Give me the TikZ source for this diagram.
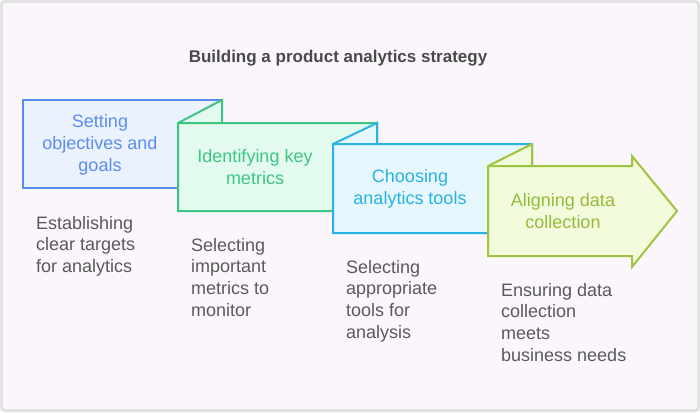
\documentclass[tikz,border=0pt]{standalone}
\usepackage{fontspec}
\setmainfont{Liberation Sans}
\definecolor{bgc}{HTML}{FBF6FC}
\definecolor{framec}{HTML}{E2E2E2}
\definecolor{titlec}{HTML}{4A4A4A}
\definecolor{descc}{HTML}{5A5A5A}
\definecolor{blueS}{HTML}{5B8DEF}
\definecolor{blueF}{HTML}{EBF2FE}
\definecolor{greenS}{HTML}{3DC683}
\definecolor{greenF}{HTML}{E3FBEF}
\definecolor{cyanS}{HTML}{29B3E3}
\definecolor{cyanF}{HTML}{E6F7FD}
\definecolor{limeS}{HTML}{9DC53F}
\definecolor{limeF}{HTML}{F2FBDC}
\begin{document}
\begin{tikzpicture}[x=1pt,y=-1pt,
  shapebox/.style={line width=2pt, line join=miter},
  lbl/.style={inner sep=0pt, align=center, font=\fontsize{18}{22}\selectfont},
  desc/.style={inner sep=0pt, align=left, anchor=north west, text=descc, font=\fontsize{18}{21.6}\selectfont},
]
\useasboundingbox (0,0) rectangle (700,412);
\draw[line width=3pt, draw=framec, fill=bgc, rounded corners=3pt] (1.5,1.5) rectangle (698.5,410.5);

\node[inner sep=0pt, anchor=base, text=titlec, font=\fontsize{17}{20}\selectfont\bfseries] (title) at (338,63) {Building a product analytics strategy};

% box 1
\draw[shapebox, draw=blueS, fill=blueF] (23,100) rectangle (222,188);
% box 2
\draw[shapebox, draw=greenS, fill=greenF] (178,123) -- (222,100) -- (222,123) -- (377,123) -- (377,211) -- (178,211) -- cycle (178,123) -- (222,123);
% box 3
\draw[shapebox, draw=cyanS, fill=cyanF] (333,144) -- (377,123) -- (377,144) -- (532,144) -- (532,233) -- (333,233) -- cycle (333,144) -- (377,144);
% box 4 arrow
\draw[shapebox, draw=limeS, fill=limeF] (488,166) -- (532,144) -- (532,166) -- (632,166) -- (632,156) -- (677,211) -- (632,267) -- (632,256) -- (488,256) -- cycle (488,166) -- (532,166);

\node[lbl, text=blueS] (l1) at (100,145) {Setting\\objectives and\\goals};
\node[lbl, text=greenS] (l2) at (255,167) {Identifying key\\metrics};
\node[lbl, text=cyanS] (l3) at (410,189) {Choosing\\analytics tools};
\node[lbl, text=limeS!95!black] (l4) at (563,211) {Aligning data\\collection};

\node[desc] (d1) at (36,213.9) {\strut Establishing\\clear targets\\for analytics};
\node[desc] (d2) at (191,235.9) {\strut Selecting\\important\\metrics to\\monitor};
\node[desc] (d3) at (346,257.9) {\strut Selecting\\appropriate\\tools for\\analysis};
\node[desc] (d4) at (501,280.9) {\strut Ensuring data\\collection\\meets\\business needs};
\end{tikzpicture}
\end{document}
